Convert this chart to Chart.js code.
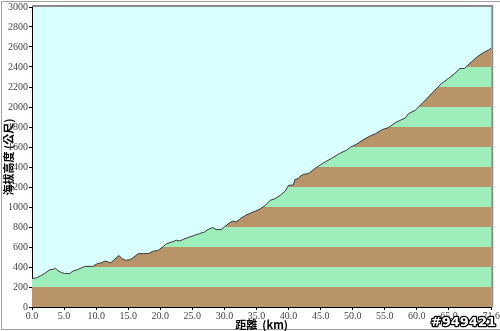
<!DOCTYPE html>
<html>
<head>
<meta charset="utf-8">
<script src="https://cdn.jsdelivr.net/npm/chart.js@4"></script>
<style>
  html, body { margin: 0; padding: 0; background: #fff; }
  #wrap { width: 500px; height: 331px; position: relative; }
</style>
</head>
<body>
<div id="wrap"><canvas id="profileChart"></canvas></div>
<script>
// distance along route (km) and elevation (m)
const distanceKm = [0, 0.7, 1.5, 2.3, 2.8, 3.3, 3.65, 4.05, 4.6, 5.1, 5.85, 6.4, 7.1, 7.65, 8.2, 8.9, 9.45,
  10.2, 10.7, 11.4, 11.9, 12.3, 12.8, 13.55, 14.05, 14.6, 15.35, 15.9, 16.6, 17.4, 18.2, 18.9, 19.7,
  20.5, 21.0, 21.8, 22.5, 23.05, 23.6, 24.3, 25.35, 26.1, 26.9, 27.4, 28.2, 28.7, 29.5,
  30.0, 30.75, 31.3, 31.8, 32.3, 33.3, 34.3, 35.4, 36.4, 37.15, 37.9, 38.7, 39.5,
  40.0, 40.75, 41.0, 41.5, 41.8, 42.3, 43.1, 44.1, 45.4, 46.65, 47.9, 49.0, 49.7,
  50.5, 51.5, 52.6, 53.6, 54.6, 55.6, 56.7, 57.4, 58.2, 58.7, 59.75,
  60.8, 61.8, 62.8, 63.85, 64.9, 65.9, 66.7, 67.45, 68.5, 69.5, 70.3, 71.3, 71.6];
const elevationM = [284, 292, 317, 350, 374, 376, 388, 362, 344, 335, 334, 360, 374, 390, 405, 407, 405,
  434, 440, 460, 450, 442, 474, 514, 484, 467, 474, 500, 534, 534, 536, 558, 567,
  607, 634, 650, 667, 660, 677, 694, 717, 734, 750, 774, 794, 774, 774,
  800, 840, 860, 850, 874, 917, 944, 974, 1017, 1067, 1084, 1117, 1160,
  1217, 1220, 1274, 1284, 1307, 1327, 1334, 1384, 1440, 1484, 1534, 1567, 1600,
  1624, 1667, 1707, 1734, 1774, 1794, 1845, 1867, 1890, 1934, 1967,
  2034, 2100, 2167, 2234, 2284, 2334, 2384, 2386, 2450, 2507, 2540, 2574, 2590];

const xTicks = [0, 5, 10, 15, 20, 25, 30, 35, 40, 45, 50, 55, 60, 65, 71.6];
const yMax = 3000;
const bandStep = 200;
const stamp = '#949421';

const BROWN = '#b89468';
const GREEN = '#9eeebb';
const SKY = '#d9ffff';

// striped fill under the profile: 200 m bands alternating brown / green
function bandFill(context) {
  const chart = context.chart;
  const area = chart.chartArea;
  if (!area) return BROWN;
  const y = chart.scales.y;
  const g = chart.ctx.createLinearGradient(0, y.getPixelForValue(0), 0, y.getPixelForValue(yMax));
  const n = yMax / bandStep;
  for (let k = 0; k < n; k++) {
    const c = k % 2 === 0 ? BROWN : GREEN;
    g.addColorStop(k / n, c);
    g.addColorStop((k + 1) / n, c);
  }
  return g;
}

const framePlugin = {
  id: 'frame',
  beforeDraw(chart) {
    const { ctx, chartArea: a, width, height } = chart;
    ctx.save();
    ctx.fillStyle = '#fff';
    ctx.fillRect(0, 0, width, height);
    ctx.strokeStyle = '#a0a0a0';
    ctx.lineWidth = 1;
    ctx.strokeRect(1.5, 1.5, width + 2, height - 3);
    ctx.fillStyle = SKY;
    ctx.fillRect(a.left, a.top, a.right - a.left, a.bottom - a.top);
    ctx.restore();
  },
  afterDraw(chart) {
    const { ctx, chartArea: a } = chart;
    ctx.save();
    ctx.strokeStyle = '#8a8a8a';
    ctx.lineWidth = 2;
    ctx.beginPath();
    ctx.moveTo(a.left, a.top - 1);
    ctx.lineTo(a.right + 1, a.top - 1);
    ctx.lineTo(a.right + 1, a.bottom);
    ctx.stroke();
    // id stamp bottom right
    ctx.font = 'bold 13px "DejaVu Sans"';
    ctx.textAlign = 'right';
    ctx.textBaseline = 'middle';
    ctx.lineJoin = 'round';
    ctx.lineWidth = 2.5;
    ctx.strokeStyle = '#000';
    ctx.strokeText(stamp, 496, 323);
    ctx.fillStyle = '#fff';
    ctx.fillText(stamp, 496, 323);
    ctx.restore();
  }
};

const tickFont = { family: '"Liberation Serif", serif', size: 10 };

new Chart(document.getElementById('profileChart'), {
  type: 'line',
  data: {
    datasets: [{
      data: distanceKm.map((d, i) => ({ x: d, y: elevationM[i] })),
      borderColor: '#3a3a3a',
      borderWidth: 1,
      pointRadius: 0,
      tension: 0,
      fill: 'origin',
      backgroundColor: bandFill
    }]
  },
  options: {
    responsive: true,
    maintainAspectRatio: false,
    animation: false,
    layout: { padding: { top: 6, right: 4, left: 0, bottom: 0 } },
    plugins: { legend: { display: false }, tooltip: { enabled: false } },
    scales: {
      x: {
        type: 'linear',
        min: 0,
        max: 71.6,
        afterBuildTicks(scale) { scale.ticks = xTicks.map(v => ({ value: v })); },
        afterFit(scale) { scale.height = 24; },
        grid: { drawOnChartArea: false, tickLength: 3, tickColor: '#000' },
        border: { color: '#000', width: 1 },
        ticks: {
          autoSkip: false, maxRotation: 0, padding: 0,
          color: '#444', font: tickFont,
          callback: v => Number(v).toFixed(1)
        },
        title: {
          display: true,
          text: '距離  (km)',
          color: '#000',
          font: { family: '"Noto Sans CJK TC", serif', size: 11, weight: 'bold' },
          padding: { top: 0, bottom: 0 }
        }
      },
      y: {
        min: 0,
        max: yMax,
        afterFit(scale) { scale.width = 32; },
        grid: { drawOnChartArea: false, tickLength: 3, tickColor: '#000' },
        border: { color: '#000', width: 1 },
        ticks: {
          stepSize: bandStep, padding: 1, color: '#444', font: tickFont,
          callback: v => String(v)
        },
        title: {
          display: true,
          text: '海拔高度 (公尺)',
          color: '#000',
          font: { family: '"Noto Sans CJK TC", serif', size: 11, weight: 'bold' },
          padding: { top: 2, bottom: 0 }
        }
      }
    }
  },
  plugins: [framePlugin]
});
</script>
</body>
</html>
